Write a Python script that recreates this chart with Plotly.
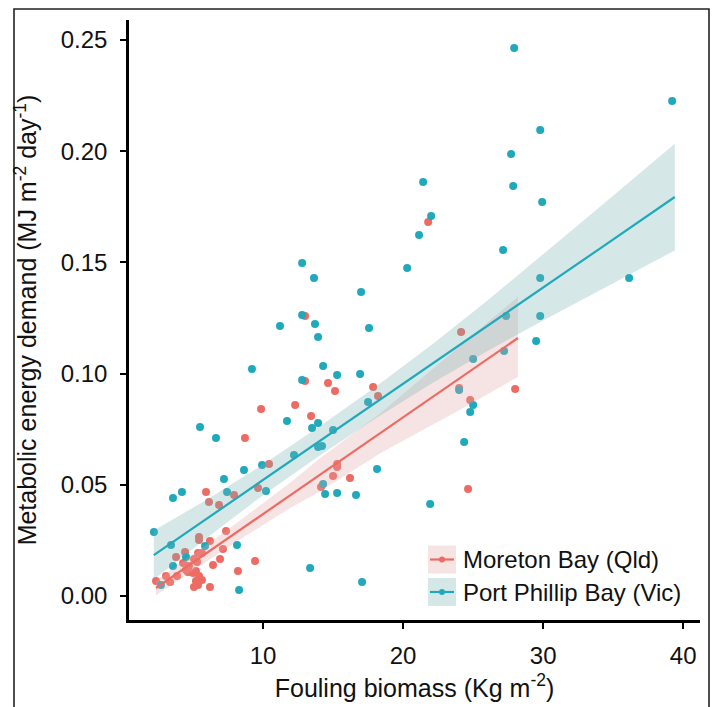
import plotly.graph_objects as go

# ---------------- data ----------------
moreton_x = [2.36, 3.07, 3.36, 3.86, 3.79, 4.43, 4.29, 4.50, 4.64, 5.00, 4.71, 5.07, 5.29, 5.36,
             5.43, 5.43, 5.64, 5.21, 5.43, 5.21, 5.36, 5.07, 5.64, 6.21, 6.43, 6.21, 6.93, 7.14,
             7.36, 8.21, 9.43, 5.93, 6.14, 6.86, 7.93, 9.64, 10.43, 8.71, 9.86, 12.29, 13.43,
             13.0, 13.0, 14.64, 15.14, 17.86, 18.21, 15.29, 15.29, 15.0, 16.21, 14.14, 21.79,
             24.14, 24.0, 28.0, 24.79, 24.64]
moreton_y = [0.0067, 0.0090, 0.0063, 0.0090, 0.0175, 0.0198, 0.0148, 0.0117, 0.0108, 0.0103,
             0.0135, 0.0166, 0.0153, 0.0193, 0.0265, 0.0252, 0.0193, 0.0112, 0.0090, 0.0067,
             0.0049, 0.0040, 0.0072, 0.0040, 0.0139, 0.0247, 0.0166, 0.0211, 0.0292, 0.0112,
             0.0157, 0.0468, 0.0423, 0.0409, 0.0454, 0.0486, 0.0594, 0.0710, 0.0841, 0.0859,
             0.0809, 0.1259, 0.0967, 0.0958, 0.0922, 0.0940, 0.0899, 0.0594, 0.0580, 0.0540,
             0.0531, 0.0490, 0.1682, 0.1187, 0.0935, 0.0931, 0.0881, 0.0481]

phillip_x = [2.21, 2.71, 3.43, 3.57, 4.21, 3.57, 4.50, 5.50, 6.64, 5.86, 7.21, 7.43, 8.14, 8.29,
             8.64, 9.93, 10.21, 11.71, 12.21, 13.36, 13.50, 13.93, 13.93, 14.21, 14.29, 14.43,
             15.29, 16.64, 15.00, 18.14, 17.07, 9.21, 12.79, 15.29, 16.93, 17.50, 14.29, 11.21,
             12.79, 13.71, 13.93, 17.57, 17.00, 12.79, 13.64, 20.29, 21.43, 22.00, 21.14, 27.14,
             27.93, 29.79, 27.71, 27.86, 29.93, 39.21, 29.79, 36.14, 27.36, 29.79, 29.50, 27.21,
             25.00, 24.00, 25.00, 24.79, 24.36, 21.93]
phillip_y = [0.0288, 0.0049, 0.0229, 0.0135, 0.0468, 0.0441, 0.0175, 0.0760, 0.0710, 0.0225,
             0.0526, 0.0468, 0.0229, 0.0027, 0.0567, 0.0589, 0.0472, 0.0787, 0.0634, 0.0126,
             0.0755, 0.0778, 0.0670, 0.0674, 0.0504, 0.0459, 0.0463, 0.0454, 0.0746, 0.0571,
             0.0063, 0.1021, 0.0971, 0.0994, 0.0998, 0.0872, 0.1034, 0.1214, 0.1263, 0.1223,
             0.1165, 0.1205, 0.1367, 0.1497, 0.1430, 0.1475, 0.1862, 0.1709, 0.1623, 0.1556,
             0.2464, 0.2095, 0.1987, 0.1844, 0.1772, 0.2226, 0.1430, 0.1430, 0.1259, 0.1259,
             0.1147, 0.1102, 0.1066, 0.0926, 0.0859, 0.0827, 0.0692, 0.0414]

# fitted regression lines and 95% bands
moreton_fit_x = [2.36, 8.0, 12.0, 14.0, 18.4, 20.0, 24.0, 28.2]
moreton_fit_y = [0.0036, 0.0281, 0.0455, 0.0542, 0.0733, 0.0803, 0.0977, 0.1160]
moreton_fit_lo = [0.0003, 0.0240, 0.0398, 0.0468, 0.0643, 0.0698, 0.0835, 0.0985]
moreton_fit_hi = [0.0069, 0.0322, 0.0512, 0.0616, 0.0823, 0.0908, 0.1119, 0.1345]

phillip_fit_x = [2.2, 6.0, 10.0, 14.0, 18.0, 22.0, 26.0, 30.0, 34.0, 39.4]
phillip_fit_y = [0.0184, 0.0348, 0.0522, 0.0695, 0.0868, 0.1041, 0.1214, 0.1387, 0.1560, 0.1794]
phillip_fit_lo = [0.0074, 0.0262, 0.0453, 0.0629, 0.0797, 0.0954, 0.1101, 0.1239, 0.1373, 0.1554]
phillip_fit_hi = [0.0294, 0.0434, 0.0591, 0.0761, 0.0939, 0.1128, 0.1327, 0.1535, 0.1747, 0.2034]

series_names = ["Moreton Bay (Qld)", "Port Phillip Bay (Vic)"]
x_ticks = [10, 20, 30, 40]
y_ticks = [0.00, 0.05, 0.10, 0.15, 0.20, 0.25]
y_tick_labels = ["0.00", "0.05", "0.10", "0.15", "0.20", "0.25"]

RED = "#ee6b63"
TEAL = "#20a9bb"
RED_BAND = "rgba(222,165,162,0.30)"
TEAL_BAND = "rgba(118,175,178,0.30)"
FONT = "Liberation Sans, Arial, Helvetica, sans-serif"

fig = go.Figure()

groups = [
    (moreton_x, moreton_y, moreton_fit_x, moreton_fit_y, moreton_fit_lo, moreton_fit_hi,
     RED, RED_BAND, series_names[0]),
    (phillip_x, phillip_y, phillip_fit_x, phillip_fit_y, phillip_fit_lo, phillip_fit_hi,
     TEAL, TEAL_BAND, series_names[1]),
]

# points first
for gx, gy, fx, fy, flo, fhi, col, band, name in groups:
    fig.add_trace(go.Scatter(x=gx, y=gy, mode="markers", name=name, showlegend=False,
                             marker=dict(color=col, size=8, line=dict(width=0)),
                             hoverinfo="x+y"))

# ribbons on top of points
for gx, gy, fx, fy, flo, fhi, col, band, name in groups:
    fig.add_trace(go.Scatter(x=list(fx) + list(fx)[::-1],
                             y=list(fhi) + list(flo)[::-1],
                             mode="lines", fill="toself", fillcolor=band,
                             line=dict(width=0), showlegend=False,
                             hoverinfo="skip"))

# fitted lines
for gx, gy, fx, fy, flo, fhi, col, band, name in groups:
    fig.add_trace(go.Scatter(x=fx, y=fy, mode="lines", line=dict(color=col, width=2.2),
                             showlegend=False, hoverinfo="skip"))

# ---------------- layout ----------------
L, R, T, B = 129, 14, 20, 87
W, H = 714, 707
pw, ph = W - L - R, H - T - B


def px_x(p):
    return (p - L) / pw


def px_y(p):
    return (H - B - p) / ph


shapes = []
annotations = []

# outer frame
shapes.append(dict(type="rect", xref="paper", yref="paper",
                   x0=px_x(14), x1=px_x(709), y0=px_y(730), y1=px_y(9),
                   line=dict(color="#222222", width=1.6), fillcolor="rgba(0,0,0,0)",
                   layer="above"))

# manual legend (key boxes with line + dot)
legend_rows = [(series_names[0], RED, RED_BAND, 559.5), (series_names[1], TEAL, TEAL_BAND, 592)]
for name, col, band, cy in legend_rows:
    shapes.append(dict(type="rect", xref="paper", yref="paper",
                       x0=px_x(428), x1=px_x(456), y0=px_y(cy + 14), y1=px_y(cy - 14),
                       fillcolor=band, line=dict(width=0), layer="above"))
    shapes.append(dict(type="line", xref="paper", yref="paper",
                       x0=px_x(430), x1=px_x(454), y0=px_y(cy), y1=px_y(cy),
                       line=dict(color=col, width=2.2)))
    shapes.append(dict(type="circle", xref="paper", yref="paper",
                       x0=px_x(439), x1=px_x(445), y0=px_y(cy + 3), y1=px_y(cy - 3),
                       fillcolor=col, line=dict(width=0)))
    annotations.append(dict(xref="paper", yref="paper", x=px_x(461), y=px_y(cy),
                            xanchor="left", yanchor="middle", showarrow=False,
                            text=name, font=dict(family=FONT, size=24, color="#111111")))

fig.update_layout(
    width=W, height=H,
    margin=dict(l=L, r=R, t=T, b=B, pad=0, autoexpand=False),
    paper_bgcolor="white", plot_bgcolor="white",
    font=dict(family=FONT, size=24, color="#111111"),
    shapes=shapes, annotations=annotations,
    showlegend=False,
)

fig.update_xaxes(
    range=[0.43, 41.2], tickvals=x_ticks, ticktext=[str(v) for v in x_ticks],
    showgrid=False, zeroline=False, automargin=False,
    showline=True, linecolor="black", linewidth=2.5,
    ticks="outside", ticklen=6, tickwidth=2, tickcolor="black",
    ticklabelstandoff=6,
    tickfont=dict(family=FONT, size=24, color="#111111"),
    title=dict(text="Fouling biomass (Kg m<sup>-2</sup>)",
               font=dict(family=FONT, size=25, color="#111111"), standoff=12),
)
fig.update_yaxes(
    range=[-0.0108, 0.2590], tickvals=y_ticks, ticktext=y_tick_labels,
    showgrid=False, zeroline=False, automargin=False,
    showline=True, linecolor="black", linewidth=2.5,
    ticks="outside", ticklen=6, tickwidth=2, tickcolor="black",
    ticklabelstandoff=8,
    tickfont=dict(family=FONT, size=24, color="#111111"),
    title=dict(text="Metabolic energy demand (MJ m<sup>-2</sup> day<sup>-1</sup>)",
               font=dict(family=FONT, size=25, color="#111111"), standoff=17),
)

fig.write_html("out.html",
               config={"displayModeBar": False},
               post_script="document.body.style.margin='0';document.body.style.overflow='hidden';")
